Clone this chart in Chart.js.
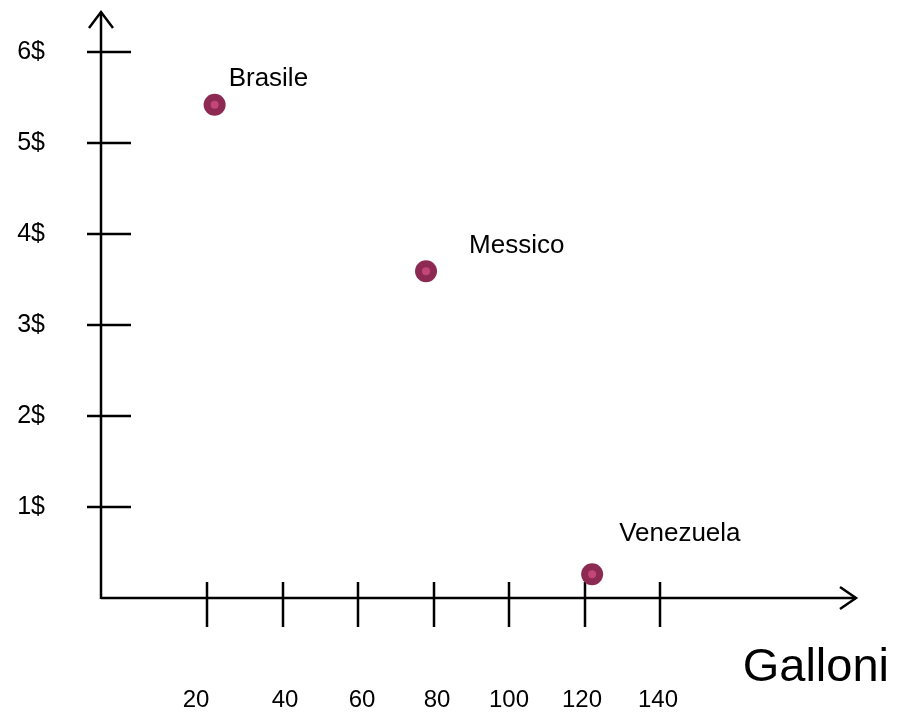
<!DOCTYPE html>
<html>
<head>
<meta charset="utf-8">
<script src="https://cdn.jsdelivr.net/npm/chart.js@4/dist/chart.umd.min.js"></script>
<style>
  html, body { margin: 0; padding: 0; background: #fff; }
  #wrap { width: 897px; height: 713px; }
</style>
</head>
<body>
<div id="wrap"><canvas id="scatter"></canvas></div>
<script>
// dati
const countries = ['Brasile', 'Messico', 'Venezuela'];
const gallons = [22, 78, 122];
const prices = [5.42, 3.59, 0.26];
const xTicks = [20, 40, 60, 80, 100, 120, 140];
const yTicks = [1, 2, 3, 4, 5, 6];
const yTickLabels = ['1$', '2$', '3$', '4$', '5$', '6$'];
const xTitle = 'Galloni';

// stile: offset etichette (pixel) rispetto al punto / alla tacca
const labelOffsets = [[14, -26], [43, -26], [27, -41]];
const xLabelShift = [-11, 2, 4, 3, 0, -3, -2];

const FONT = '"Liberation Sans", Arial, sans-serif';

const points = gallons.map((g, i) => ({ x: g, y: prices[i] }));

// assi disegnati a mano, con frecce e tacche
const axesPlugin = {
    id: 'handAxes',
    beforeDatasetsDraw(chart) {
        const { ctx, chartArea: a, scales: { x, y } } = chart;
        ctx.save();
        ctx.strokeStyle = '#000';
        ctx.lineWidth = 2.5;
        ctx.lineCap = 'butt';

        // asse y
        ctx.beginPath();
        ctx.moveTo(a.left, a.bottom + 1);
        ctx.lineTo(a.left, a.top);
        ctx.stroke();
        ctx.beginPath();
        ctx.moveTo(a.left - 12, a.top + 16);
        ctx.lineTo(a.left, a.top);
        ctx.lineTo(a.left + 12, a.top + 16);
        ctx.stroke();

        // asse x
        ctx.beginPath();
        ctx.moveTo(a.left, a.bottom);
        ctx.lineTo(a.right, a.bottom);
        ctx.stroke();
        ctx.beginPath();
        ctx.moveTo(a.right - 16, a.bottom - 11);
        ctx.lineTo(a.right, a.bottom);
        ctx.lineTo(a.right - 16, a.bottom + 11);
        ctx.stroke();

        // tacche y + etichette
        ctx.fillStyle = '#000';
        ctx.font = '25px ' + FONT;
        ctx.textAlign = 'right';
        ctx.textBaseline = 'middle';
        yTicks.forEach((v, i) => {
            const py = Math.round(y.getPixelForValue(v));
            ctx.beginPath();
            ctx.moveTo(a.left - 14, py);
            ctx.lineTo(a.left + 30, py);
            ctx.stroke();
            ctx.fillText(yTickLabels[i], 45, py);
        });

        // tacche x + etichette
        ctx.font = '24px ' + FONT;
        ctx.textAlign = 'center';
        xTicks.forEach((v, i) => {
            const px = Math.round(x.getPixelForValue(v));
            ctx.beginPath();
            ctx.moveTo(px, a.bottom - 16);
            ctx.lineTo(px, a.bottom + 29);
            ctx.stroke();
            ctx.fillText(String(v), px + xLabelShift[i], 700);
        });

        // titolo asse x
        ctx.font = '47px ' + FONT;
        ctx.textAlign = 'right';
        ctx.fillText(xTitle, 889, 668);
        ctx.restore();
    },
    afterDatasetsDraw(chart) {
        const { ctx } = chart;
        const meta = chart.getDatasetMeta(0);
        ctx.save();
        ctx.fillStyle = '#000';
        ctx.font = '26px ' + FONT;
        ctx.textAlign = 'left';
        ctx.textBaseline = 'middle';
        meta.data.forEach((el, i) => {
            const [dx, dy] = labelOffsets[i];
            ctx.fillText(countries[i], el.x + dx, el.y + dy);
        });
        ctx.restore();
    }
};

new Chart(document.getElementById('scatter'), {
    type: 'scatter',
    data: {
        datasets: [
            {
                label: 'Prezzo',
                data: points,
                order: 2,
                pointRadius: 11,
                pointHoverRadius: 11,
                backgroundColor: '#8c2a53',
                borderWidth: 0
            },
            {
                label: 'centro',
                data: points,
                order: 1,
                pointRadius: 4,
                pointHoverRadius: 4,
                backgroundColor: '#c44677',
                borderWidth: 0
            }
        ]
    },
    options: {
        responsive: true,
        maintainAspectRatio: false,
        animation: false,
        events: [],
        layout: { padding: { left: 101, right: 41, top: 12, bottom: 115 } },
        plugins: {
            legend: { display: false },
            tooltip: { enabled: false }
        },
        scales: {
            x: { type: 'linear', min: -8.1, max: 191.9, display: false },
            y: { type: 'linear', min: 0, max: 6.44, display: false }
        }
    },
    plugins: [axesPlugin]
});
</script>
</body>
</html>
